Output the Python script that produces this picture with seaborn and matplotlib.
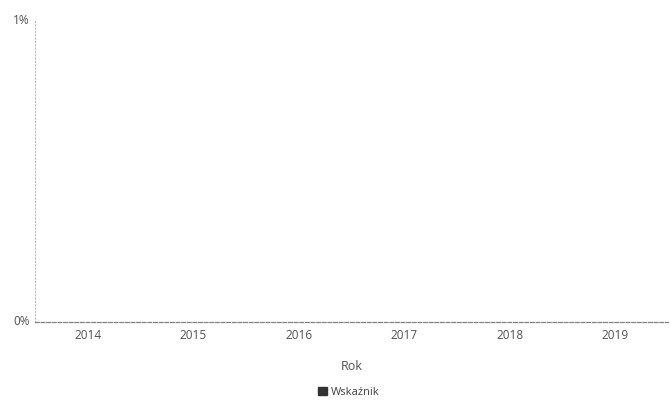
import matplotlib
matplotlib.use("Agg")
import matplotlib.pyplot as plt
import seaborn as sns
import pandas as pd
from matplotlib.patches import Patch
from matplotlib.ticker import FuncFormatter

years = ["2014", "2015", "2016", "2017", "2018", "2019"]
values = [0, 0, 0, 0, 0, 0]  # percent
series_name = "Wskaźnik"

sns.set_theme(style="white")
plt.rcParams['font.family'] = ['Open Sans', 'DejaVu Sans']

df = pd.DataFrame({"Rok": years, "value": values})

fig = plt.figure(figsize=(6.71, 4.04), dpi=100)
ax = fig.add_axes([0.0525, 0.203, 0.943, 0.747])
bar_color = "#333333"
sns.barplot(data=df, x="Rok", y="value", color=bar_color, ax=ax, width=0.6)

ax.set_ylim(0, 1)
ax.set_yticks([0, 1])
ax.yaxis.set_major_formatter(FuncFormatter(lambda v, p: f"{v:.0f}%"))
ax.set_xlim(-0.5, 5.5)

txt = "#505050"
ax.tick_params(axis="both", length=0, labelsize=8.5, colors=txt)
ax.tick_params(axis="x", pad=5)
ax.tick_params(axis="y", pad=4)
for lab in ax.get_yticklabels():
    lab.set_verticalalignment("center")

ax.set_xlabel("Rok", fontsize=9, color=txt, labelpad=13)
ax.set_ylabel("")

for s in ["top", "right"]:
    ax.spines[s].set_visible(False)
ax.spines["left"].set_color("#bbbbbb")
ax.spines["left"].set_linestyle((0, (1, 2)))
ax.spines["left"].set_linewidth(0.8)
ax.spines["bottom"].set_color("#808080")
ax.spines["bottom"].set_linestyle((0, (3, 1.5)))
ax.spines["bottom"].set_linewidth(0.9)

handles = [Patch(facecolor=bar_color, edgecolor=bar_color, label=series_name)]
fig.legend(handles=handles, loc="center", bbox_to_anchor=(0.52, 0.029), frameon=False,
           fontsize=8, handlelength=0.8, handleheight=0.8, handletextpad=0.3,
           labelcolor="#404040")

fig.savefig("out.png", dpi=100)
